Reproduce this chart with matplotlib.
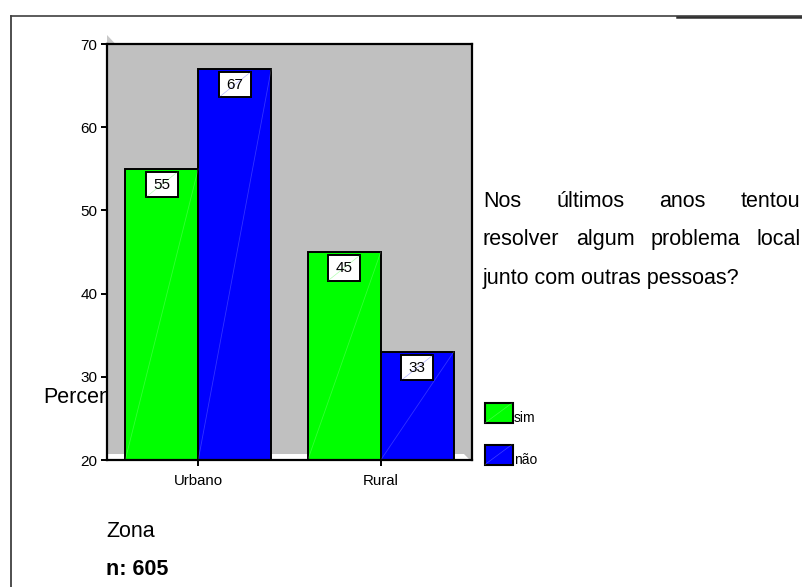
import matplotlib
matplotlib.use('Agg')
import matplotlib.pyplot as plt
from matplotlib.patches import Rectangle, Polygon
from matplotlib.lines import Line2D
import matplotlib.transforms as mtransforms
import numpy as np

plt.rcParams['font.family'] = ['Liberation Sans', 'DejaVu Sans']

# data
zonas = ['Urbano', 'Rural']
sim = [55, 45]
nao = [67, 33]
series_names = ['sim', 'não']
series_colors = ['#00ff00', '#0000ff']
y_ticks = [20, 30, 40, 50, 60, 70]
question_lines = [
    ['Nos', 'últimos', 'anos', 'tentou'],
    ['resolver', 'algum', 'problema', 'local'],
]
question_last = 'junto com outras pessoas?'
y_title = 'Percentagem'
x_title = 'Zona'
n_text = 'n: 605'

W, H = 802, 587
fig = plt.figure(figsize=(W / 100, H / 100), dpi=100)
fig.patch.set_facecolor('white')


def fx(px):
    return px / W


def fy(py):
    return 1 - py / H


# outer frame (left and top borders)
fig.add_artist(Line2D([fx(11), fx(11)], [fy(16), fy(587)], color='#303030', lw=1.2))
fig.add_artist(Line2D([fx(11), fx(802)], [fy(16), fy(16)], color='#404040', lw=1.2))
fig.add_artist(Line2D([fx(677), fx(802)], [fy(16.5), fy(16.5)], color='#303030', lw=1.8))

# y-axis title, partly hidden behind the plot area
fig.text(fx(43), fy(403), y_title, fontsize=15.5, va='baseline', ha='left', zorder=-1)

ax = fig.add_axes([fx(107), fy(460), 365 / W, 416 / H], zorder=1)
ax.set_facecolor('#c0c0c0')
ax.set_xlim(-0.5, 1.5)
ax.set_ylim(20, 70)

# white floor strip of the 3D box
floor = Polygon([(0, 0), (0.9945, 0), (0.978, 0.0144), (0, 0.0144)],
                closed=True, transform=ax.transAxes, facecolor='white',
                edgecolor='none', zorder=0.5)
ax.add_patch(floor)

x = np.arange(len(zonas))
w = 0.4
y0 = ax.get_ylim()[0]
for vals, off, col in ((sim, -w / 2, series_colors[0]), (nao, w / 2, series_colors[1])):
    ax.bar(x + off, vals, width=w, color=col, edgecolor='black', linewidth=1.4, zorder=2)
    for xi, v in zip(x + off, vals):
        ax.plot([xi - w / 2, xi + w / 2], [y0, v], color='white', alpha=0.2, lw=0.6, zorder=2.5)
        trans = fig.dpi_scale_trans + mtransforms.ScaledTranslation(xi, v, ax.transData)
        ax.add_patch(Rectangle((-0.16, -0.285), 0.32, 0.255, transform=trans,
                               facecolor='white', edgecolor='black', lw=1.4, zorder=3,
                               clip_on=False))
        ax.add_artist(Line2D([-0.16, 0.16], [-0.285, -0.03], transform=trans,
                             color=col, alpha=0.3, lw=0.5, zorder=3.2))
        ax.text(0, -0.16, f'{v}', transform=trans, ha='center', va='center',
                fontsize=11, zorder=4)

ax.set_yticks(y_ticks)
ax.set_xticks(x)
ax.set_xticklabels(zonas)
ax.tick_params(axis='y', direction='out', length=4, width=1.4, labelsize=11, pad=3)
ax.tick_params(axis='x', direction='out', length=4, width=1.4, labelsize=10.8, pad=6)
for s in ax.spines.values():
    s.set_linewidth(1.6)
    s.set_color('black')

# back-wall corner at top-left
fig.add_artist(Polygon([(fx(107), fy(35)), (fx(115.5), fy(44)), (fx(107), fy(44))],
                       closed=True, facecolor='#c8c8c8', edgecolor='none'))

# legend
for i, (name, col) in enumerate(zip(series_names, series_colors)):
    top = 403 + i * 41.5
    fig.add_artist(Rectangle((fx(484.5), fy(top + 20)), 28 / W, 20 / H,
                             facecolor=col, edgecolor='black', lw=1.5))
    fig.add_artist(Line2D([fx(485), fx(512)], [fy(top + 20), fy(top)],
                          color='white', alpha=0.25, lw=0.5))
    fig.text(fx(514), fy(top + 19), name, fontsize=10, va='baseline', ha='left')

# question text, justified
renderer = fig.canvas.get_renderer()
left, right = 483, 800.5
baselines = [207, 245.5]
for words, base in zip(question_lines, baselines):
    texts = [fig.text(0, fy(base), wd, fontsize=15.5, va='baseline', ha='left') for wd in words]
    widths = [t.get_window_extent(renderer).width for t in texts]
    gap = (right - left - sum(widths)) / (len(words) - 1)
    pos = left
    for t, wdt in zip(texts, widths):
        t.set_x(fx(pos))
        pos += wdt + gap
fig.text(fx(left), fy(284), question_last, fontsize=15.5, va='baseline', ha='left')

fig.text(fx(106), fy(537), x_title, fontsize=15.5, va='baseline', ha='left')
fig.text(fx(106), fy(575), n_text, fontsize=15.5, fontweight='bold', va='baseline', ha='left')

fig.savefig('out.png', dpi=100)
